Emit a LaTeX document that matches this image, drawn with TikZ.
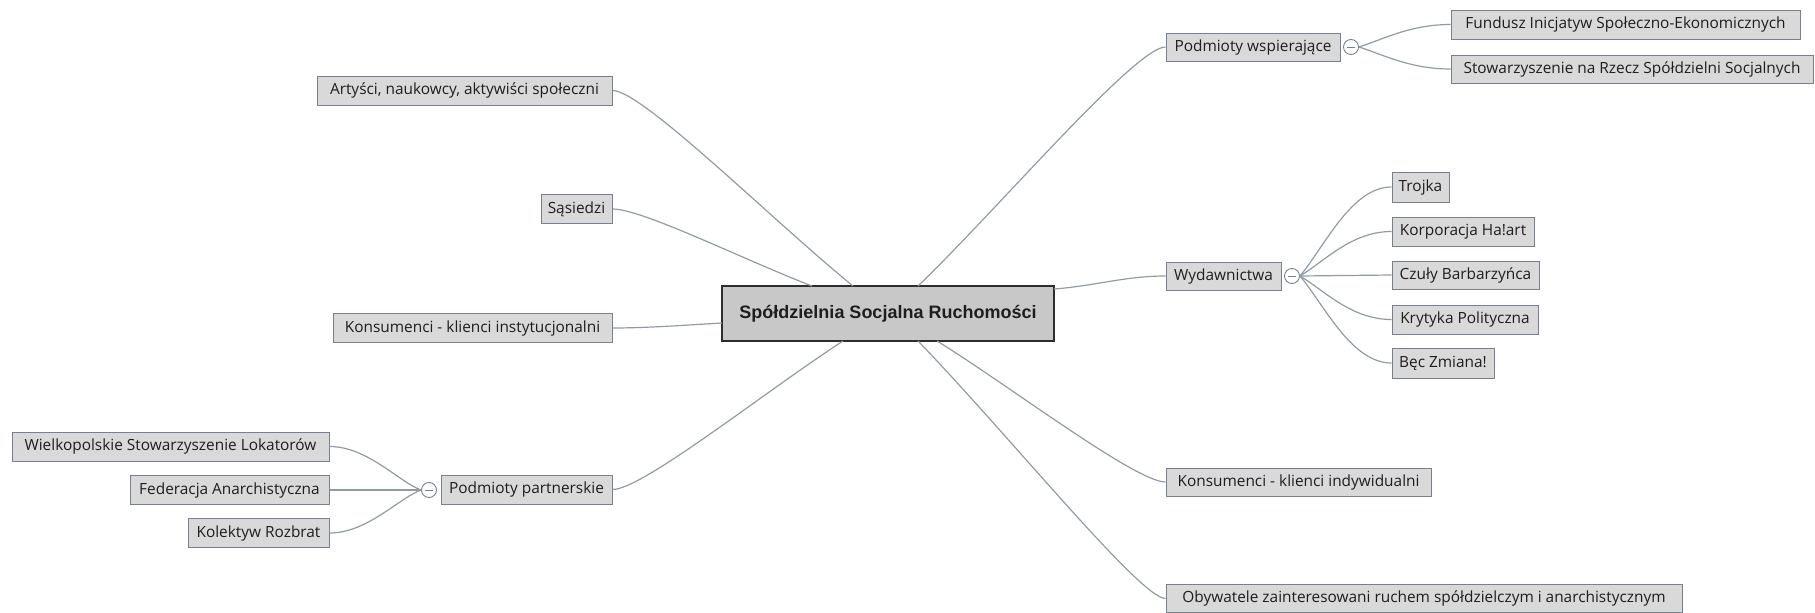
\documentclass[tikz,border=0pt]{standalone}
\usepackage{fontspec}
\setmainfont{Open Sans}
\newfontfamily\centralfont{Liberation Sans}
\definecolor{boxfill}{RGB}{217,217,217}
\definecolor{boxborder}{RGB}{118,128,142}
\definecolor{cfill}{RGB}{200,200,200}
\definecolor{cborder}{RGB}{45,45,45}
\definecolor{linec}{RGB}{145,155,167}
\definecolor{txt}{RGB}{30,30,30}
\begin{document}
\begin{tikzpicture}[x=1pt,y=-1pt,
  box/.style={draw=boxborder, fill=boxfill, line width=1pt, inner sep=0pt,
    minimum height=29pt, text=txt, font=\fontsize{15.4}{18}\selectfont},
  central/.style={draw=cborder, fill=cfill, line width=1.2pt, inner sep=0pt,
    minimum width=332pt, minimum height=55pt, text=txt,
    font=\centralfont\bfseries\fontsize{18}{22}\selectfont},
  link/.style={draw=linec, line width=1.2pt},
  circ/.style={circle, draw=boxborder, fill=white, minimum size=15pt, inner sep=0pt,
    line width=0.9pt,
    path picture={\draw[boxborder, line width=1pt]
      ([xshift=-4pt]path picture bounding box.center) --
      ([xshift=4pt]path picture bounding box.center);}}
]
\useasboundingbox (0,0) rectangle (1815,613);

% central
\node[central] (c) at (888,313.5) {Spółdzielnia Socjalna Ruchomości};

% left side
\node[box, minimum width=295pt] (art) at (464.5,90.5) {Artyści, naukowcy, aktywiści społeczni};
\node[box, minimum width=71pt] (sas) at (576.5,209) {Sąsiedzi};
\node[box, minimum width=279pt] (kinst) at (472.5,328) {Konsumenci - klienci instytucjonalni};
\node[box, minimum width=171pt] (ppart) at (526.5,489.5) {Podmioty partnerskie};
\node[circ] (pc) at (429,490) {};
\node[box, minimum width=317pt] (wlsl) at (170.5,446.5) {Wielkopolskie Stowarzyszenie Lokatorów};
\node[box, minimum width=199pt] (fed) at (229.5,490) {Federacja Anarchistyczna};
\node[box, minimum width=141pt] (kol) at (258.5,533) {Kolektyw Rozbrat};

% right side
\node[box, minimum width=174pt, minimum height=28pt] (pwsp) at (1253,47) {Podmioty wspierające};
\node[circ] (wc) at (1351,47) {};
\node[box, minimum width=349pt] (fund) at (1625.5,24.5) {Fundusz Inicjatyw Społeczno-Ekonomicznych};
\node[box, minimum width=362pt, minimum height=28pt] (stow) at (1632,69) {Stowarzyszenie na Rzecz Spółdzielni Socjalnych};

\node[box, minimum width=115pt, minimum height=28pt] (wyd) at (1223.5,276) {Wydawnictwa};
\node[circ] (yc) at (1292,276) {};
\node[box, minimum width=57pt, minimum height=30pt] (tro) at (1420.5,187) {Trojka};
\node[box, minimum width=142pt] (kor) at (1463,231.5) {Korporacja Ha!art};
\node[box, minimum width=147pt, minimum height=28pt] (czu) at (1465.5,275) {Czuły Barbarzyńca};
\node[box, minimum width=146pt] (kry) at (1465,319.5) {Krytyka Polityczna};
\node[box, minimum width=102pt, minimum height=30pt] (bec) at (1443,363) {Bęc Zmiana!};

\node[box, minimum width=265pt, minimum height=28pt] (kind) at (1298.5,482) {Konsumenci - klienci indywidualni};
\node[box, minimum width=516pt, minimum height=28pt] (oby) at (1424,598.5) {Obywatele zainteresowani ruchem spółdzielczym i anarchistycznym};

% attachment points on central box
\coordinate (cA) at (853,286);
\coordinate (cS) at (812,286);
\coordinate (cK) at (722,323);
\coordinate (cP) at (843,341);
\coordinate (cW) at (918,286);
\coordinate (cY) at (1054,289);
\coordinate (cI) at (937,341);
\coordinate (cO) at (918,341);

% main connectors
\draw[link] (art.east) .. controls +(30,0) and +(-80,-65) .. (cA);
\draw[link] (sas.east) .. controls +(30,0) and +(-70,-27) .. (cS);
\draw[link] (kinst.east) .. controls +(35,0) and +(-35,2) .. (cK);
\draw[link] (ppart.east) .. controls +(30,0) and +(-80,52) .. (cP);
\draw[link] (cW) .. controls +(80,-77) and +(-30,0) .. (pwsp.west);
\draw[link] (cY) .. controls +(40,-3) and +(-40,0) .. (wyd.west);
\draw[link] (cI) .. controls +(70,43) and +(-30,0) .. (kind.west);
\draw[link] (cO) .. controls +(90,93) and +(-25,0) .. (oby.west);

% partnerskie children
\draw[link] (pc.west) .. controls +(-22,-8) and +(38,0) .. (wlsl.east);
\draw[link] (pc.west) -- (fed.east);
\draw[link] (pc.west) .. controls +(-22,8) and +(38,0) .. (kol.east);

% wspierajace children
\draw[link] (wc.east) .. controls +(25,-8) and +(-40,0) .. (fund.west);
\draw[link] (wc.east) .. controls +(25,8) and +(-40,0) .. (stow.west);

% wydawnictwa children
\draw[link] (yc.east) .. controls +(25,-30) and +(-40,0) .. (tro.west);
\draw[link] (yc.east) .. controls +(25,-15) and +(-40,0) .. (kor.west);
\draw[link] (yc.east) -- (czu.west);
\draw[link] (yc.east) .. controls +(25,15) and +(-40,0) .. (kry.west);
\draw[link] (yc.east) .. controls +(25,30) and +(-40,0) .. (bec.west);
\end{tikzpicture}
\end{document}
